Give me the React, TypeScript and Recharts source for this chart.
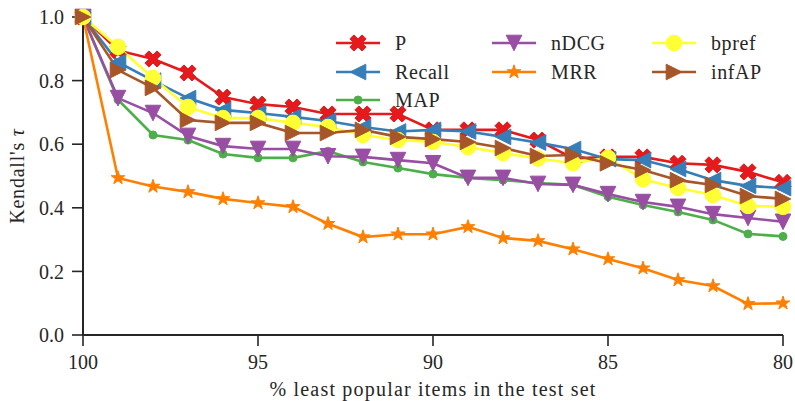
import React from 'react';
import { LineChart, Line, XAxis, YAxis } from 'recharts';

const X_VALUES = [100, 99, 98, 97, 96, 95, 94, 93, 92, 91, 90, 89, 88, 87, 86, 85, 84, 83, 82, 81, 80];
const P_VALUES = [1.0, 0.895, 0.868, 0.824, 0.748, 0.726, 0.717, 0.695, 0.695, 0.695, 0.645, 0.645, 0.645, 0.613, 0.555, 0.56, 0.56, 0.54, 0.535, 0.513, 0.48];
const RECALL_VALUES = [1.0, 0.858, 0.8, 0.745, 0.708, 0.698, 0.686, 0.673, 0.654, 0.64, 0.645, 0.64, 0.623, 0.605, 0.585, 0.553, 0.55, 0.522, 0.487, 0.469, 0.462];
const MAP_VALUES = [1.0, 0.74, 0.629, 0.613, 0.569, 0.557, 0.557, 0.578, 0.544, 0.525, 0.506, 0.494, 0.487, 0.478, 0.472, 0.435, 0.409, 0.387, 0.362, 0.318, 0.31];
const NDCG_VALUES = [1.0, 0.745, 0.698, 0.626, 0.594, 0.585, 0.585, 0.562, 0.56, 0.55, 0.54, 0.494, 0.494, 0.475, 0.472, 0.443, 0.418, 0.403, 0.38, 0.368, 0.356];
const MRR_VALUES = [1.0, 0.494, 0.467, 0.45, 0.428, 0.415, 0.403, 0.35, 0.308, 0.317, 0.317, 0.34, 0.305, 0.296, 0.27, 0.239, 0.21, 0.173, 0.154, 0.098, 0.1];
const BPREF_VALUES = [1.0, 0.906, 0.808, 0.717, 0.682, 0.682, 0.667, 0.654, 0.629, 0.613, 0.607, 0.591, 0.572, 0.555, 0.54, 0.557, 0.49, 0.462, 0.44, 0.406, 0.403];
const INFAP_VALUES = [1.0, 0.833, 0.777, 0.676, 0.667, 0.667, 0.635, 0.635, 0.645, 0.623, 0.616, 0.607, 0.588, 0.563, 0.566, 0.54, 0.519, 0.487, 0.472, 0.437, 0.428];

const X_TICKS = [100, 95, 90, 85, 80];
const Y_TICKS = [0, 0.2, 0.4, 0.6, 0.8, 1.0];

const SERIES = [
  { key: 'P', name: 'P', color: '#e41a1c', marker: 'x', values: P_VALUES },
  { key: 'Recall', name: 'Recall', color: '#377eb8', marker: 'left', values: RECALL_VALUES },
  { key: 'MAP', name: 'MAP', color: '#4daf4a', marker: 'smallcircle', values: MAP_VALUES },
  { key: 'nDCG', name: 'nDCG', color: '#984ea3', marker: 'down', values: NDCG_VALUES },
  { key: 'MRR', name: 'MRR', color: '#ff7f00', marker: 'star', values: MRR_VALUES },
  { key: 'bpref', name: 'bpref', color: '#ffff33', marker: 'circle', values: BPREF_VALUES },
  { key: 'infAP', name: 'infAP', color: '#a65628', marker: 'right', values: INFAP_VALUES },
];

// legend columns (matplotlib column-major fill, 3 columns)
const LEGEND_LAYOUT = [[0, 1, 2], [3, 4], [5, 6]];

const DATA = X_VALUES.map((x, i) => {
  const row: any = { x };
  SERIES.forEach((s) => { row[s.key] = s.values[i]; });
  return row;
});

const TEXT_COLOR = '#262626';
const FONT = 'Liberation Serif';

function pts(arr: number[][], cx: number, cy: number) {
  return arr.map(([a, b]) => `${(cx + a).toFixed(2)},${(cy + b).toFixed(2)}`).join(' ');
}

function Marker({ shape, cx, cy, color }: { shape: string; cx: number; cy: number; color: string }) {
  if (cx == null || cy == null || isNaN(cx) || isNaN(cy)) return null;
  const h = 7.8;
  if (shape === 'x') {
    const H = 8.6, t = 2.8;
    const base = [[-t, -H], [t, -H], [t, -t], [H, -t], [H, t], [t, t], [t, H], [-t, H], [-t, t], [-H, t], [-H, -t], [-t, -t]];
    const c = Math.SQRT1_2;
    const rot = base.map(([a, b]) => [(a - b) * c, (a + b) * c]);
    return <polygon points={pts(rot, cx, cy)} fill={color} stroke={color} strokeWidth={1} />;
  }
  if (shape === 'left') {
    return <polygon points={pts([[-h, 0], [h, -h], [h, h]], cx, cy)} fill={color} stroke={color} strokeWidth={1} />;
  }
  if (shape === 'right') {
    return <polygon points={pts([[h, 0], [-h, -h], [-h, h]], cx, cy)} fill={color} stroke={color} strokeWidth={1} />;
  }
  if (shape === 'down') {
    return <polygon points={pts([[0, h], [-h, -h], [h, -h]], cx, cy)} fill={color} stroke={color} strokeWidth={1} />;
  }
  if (shape === 'star') {
    const R = 7.2, r = R * 0.382;
    const arr: number[][] = [];
    for (let k = 0; k < 10; k++) {
      const ang = -Math.PI / 2 + (k * Math.PI) / 5;
      const rr = k % 2 === 0 ? R : r;
      arr.push([rr * Math.cos(ang), rr * Math.sin(ang)]);
    }
    return <polygon points={pts(arr, cx, cy)} fill={color} stroke={color} strokeWidth={1} />;
  }
  if (shape === 'smallcircle') {
    return <circle cx={cx} cy={cy} r={4} fill={color} stroke={color} strokeWidth={1} />;
  }
  return <circle cx={cx} cy={cy} r={7.8} fill={color} stroke={color} strokeWidth={1} />;
}

const LEGEND_COLS = [336, 492, 652];
const LEGEND_ROWS = [43, 72, 100];

function LegendOverlay() {
  return (
    <svg width={795} height={401} style={{ position: 'absolute', left: 0, top: 0, pointerEvents: 'none' }}>
      {LEGEND_LAYOUT.map((colItems, col) =>
        colItems.map((idx, row) => {
          const s = SERIES[idx];
          const x0 = LEGEND_COLS[col];
          const y = LEGEND_ROWS[row];
          return (
            <g key={s.key}>
              <line x1={x0} y1={y} x2={x0 + 44} y2={y} stroke={s.color} strokeWidth={2.6} />
              <Marker shape={s.marker} cx={x0 + 22} cy={y} color={s.color} />
              <text x={x0 + 59} y={y + 7} fontFamily={FONT} fontSize={20} fill={TEXT_COLOR} letterSpacing={0.6}>
                {s.name}
              </text>
            </g>
          );
        })
      )}
    </svg>
  );
}

export default function App() {
  return (
    <div style={{ position: 'absolute', left: 0, top: 0, width: 795, height: 401, background: '#fff' }}>
      <LineChart width={795} height={401} data={DATA} margin={{ top: 17, right: 12, left: 0, bottom: 0 }}>
        <XAxis
          dataKey="x"
          type="number"
          domain={[80, 100]}
          reversed
          ticks={X_TICKS}
          height={66}
          tickSize={11}
          tickMargin={9}
          axisLine={{ stroke: TEXT_COLOR, strokeWidth: 2 }}
          tickLine={{ stroke: TEXT_COLOR, strokeWidth: 1.6 }}
          tick={{ fill: TEXT_COLOR, fontSize: 20, fontFamily: FONT }}
          label={{
            content: () => (
              <text x={433} y={396} textAnchor="middle" fontFamily={FONT} fontSize={20} fill={TEXT_COLOR} letterSpacing={1.2}>
                % least popular items in the test set
              </text>
            ),
          }}
        />
        <YAxis
          type="number"
          domain={[0, 1]}
          ticks={Y_TICKS}
          width={83}
          tickSize={11}
          tickMargin={8}
          tickFormatter={(v: number) => v.toFixed(1)}
          axisLine={{ stroke: TEXT_COLOR, strokeWidth: 2 }}
          tickLine={{ stroke: TEXT_COLOR, strokeWidth: 1.6 }}
          tick={{ fill: TEXT_COLOR, fontSize: 20, fontFamily: FONT }}
          label={{
            content: () => (
              <text x={24} y={176} transform="rotate(-90, 24, 176)" textAnchor="middle" fontFamily={FONT} fontSize={20} fill={TEXT_COLOR} letterSpacing={0.8}>
                Kendall's <tspan fontStyle="italic">τ</tspan>
              </text>
            ),
          }}
        />
        {SERIES.map((s) => (
          <Line
            key={s.key}
            dataKey={s.key}
            name={s.name}
            stroke={s.color}
            strokeWidth={2.6}
            isAnimationActive={false}
            activeDot={false}
            dot={(p: any) => <Marker key={`${s.key}-${p.index}`} shape={s.marker} cx={p.cx} cy={p.cy} color={s.color} />}
          />
        ))}
      </LineChart>
      <LegendOverlay />
    </div>
  );
}
